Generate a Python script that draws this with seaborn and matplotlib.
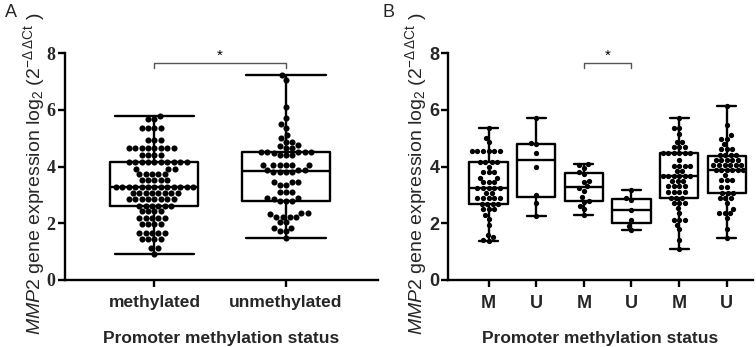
import numpy as np
import pandas as pd
import matplotlib
matplotlib.use("Agg")
import matplotlib.pyplot as plt
import seaborn as sns

# ---------------- data ----------------
a_categories = ["methylated", "unmethylated"]
a_methylated = [5.77, 5.68, 5.68, 5.35, 5.35, 5.35, 5.35, 4.95, 4.95, 4.95,
                4.65, 4.65, 4.65, 4.65, 4.65, 4.65, 4.65, 4.65,
                4.42, 4.42, 4.42, 4.42,
                4.15, 4.15, 4.15, 4.15, 4.15, 4.15, 4.15, 4.15, 4.15, 4.15,
                3.90, 3.90, 3.90, 3.72, 3.72, 3.72, 3.72, 3.72,
                3.52, 3.52, 3.52, 3.52, 3.52,
                3.28, 3.28, 3.28, 3.28, 3.28, 3.28, 3.28, 3.28, 3.28, 3.28, 3.28, 3.28, 3.28,
                3.05, 3.05, 3.05, 3.05, 3.05, 3.05, 3.05, 3.05,
                2.85, 2.85, 2.85, 2.85, 2.85, 2.85, 2.85, 2.85,
                2.62, 2.62, 2.62, 2.62, 2.62, 2.62,
                2.42, 2.42, 2.42, 2.42,
                2.18, 2.18, 2.18, 2.18, 2.18,
                1.98, 1.98, 1.98, 1.98,
                1.65, 1.65, 1.65, 1.65, 1.65,
                1.45, 1.45, 1.45, 1.45,
                1.12, 1.12, 0.93]
a_unmethylated = [7.22, 7.05, 6.10, 5.70, 5.50, 5.35, 5.10, 5.00, 4.87, 4.86,
                  4.75, 4.74, 4.65, 4.64, 4.50, 4.50, 4.51, 4.49, 4.50, 4.50,
                  4.40, 4.41, 4.39, 4.05, 4.04, 4.06, 4.05, 4.05, 4.04,
                  3.88, 3.87, 3.89, 3.80, 3.81, 3.79, 3.80, 3.45, 3.44, 3.46,
                  3.35, 3.34, 3.10, 3.11, 3.09, 2.88, 2.87, 2.89, 2.78, 2.77, 2.79,
                  2.35, 2.34, 2.36, 2.22, 2.21, 2.23, 2.22, 2.05, 2.04,
                  1.83, 1.82, 1.72, 1.71, 1.48]

b_groups = ["M1", "U1", "M2", "U2", "M3", "U3"]
b_labels = ["M", "U", "M", "U", "M", "U"]
b_m1 = [5.35, 5.02, 4.85, 4.55, 4.55, 4.55, 4.55, 4.55, 4.55,
        4.15, 4.15, 4.15, 4.15, 4.00, 3.80, 3.80, 3.80, 3.60, 3.60,
        3.45, 3.45, 3.45, 3.25, 3.25, 3.25, 3.25, 3.25, 3.05, 3.05,
        2.88, 2.88, 2.88, 2.88, 2.88, 2.68, 2.68, 2.68, 2.68,
        2.50, 2.50, 2.50, 2.30, 2.15, 1.95, 1.60, 1.50, 1.40, 1.38]
b_u1 = [5.70, 4.82, 4.80, 4.47, 3.98, 2.98, 2.72, 2.25]
b_m2 = [4.08, 4.05, 3.95, 3.82, 3.75, 3.48, 3.45, 3.30, 3.25, 3.15, 2.92, 2.78,
        2.75, 2.62, 2.50, 2.30]
b_u2 = [3.18, 2.88, 2.82, 2.48, 2.12, 1.92, 1.75]
b_m3 = [5.70, 5.35, 5.35, 5.15, 4.85, 4.85, 4.68, 4.68, 4.68,
        4.48, 4.48, 4.48, 4.48, 4.48, 4.48, 4.22, 4.02, 4.02, 4.02, 4.02,
        3.85, 3.85, 3.68, 3.68, 3.68, 3.68, 3.68, 3.68, 3.50, 3.50, 3.50,
        3.32, 3.32, 3.32, 3.32, 3.10, 3.10, 3.10, 3.10, 2.88, 2.88, 2.88,
        2.72, 2.72, 2.72, 2.53, 2.35, 2.12, 2.12, 2.12, 1.95, 1.78, 1.40, 1.08]
b_u3 = [6.12, 5.45, 5.10, 4.98, 4.98, 4.78, 4.62, 4.62, 4.62,
        4.40, 4.40, 4.40, 4.40, 4.22, 4.22, 4.22, 4.22, 4.22,
        4.05, 4.05, 4.05, 4.05, 4.05, 4.05, 3.88, 3.88, 3.88, 3.88, 3.88, 3.88,
        3.70, 3.52, 3.52, 3.52, 3.28, 3.28, 3.05, 3.05, 3.05,
        2.88, 2.88, 2.88, 2.70, 2.50, 2.35, 2.35, 2.35, 2.18, 1.80, 1.48]
y_ticks = [0, 2, 4, 6, 8]
x_title = "Promoter methylation status"

# ---------------- style ----------------
sns.set_theme(style="ticks")
plt.rcParams['font.family'] = ['Liberation Sans', 'DejaVu Sans']
plt.rcParams['mathtext.fontset'] = 'custom'
plt.rcParams['mathtext.rm'] = 'Liberation Sans'
plt.rcParams['mathtext.it'] = 'Liberation Sans:italic'
plt.rcParams['mathtext.bf'] = 'Liberation Sans:bold'

dfA = pd.DataFrame({
    "group": [a_categories[0]] * len(a_methylated) + [a_categories[1]] * len(a_unmethylated),
    "value": a_methylated + a_unmethylated,
})
b_lists = [b_m1, b_u1, b_m2, b_u2, b_m3, b_u3]
dfB = pd.DataFrame({
    "group": sum([[g] * len(v) for g, v in zip(b_groups, b_lists)], []),
    "value": sum(b_lists, []),
})

W, H = 756, 347
fig = plt.figure(figsize=(W / 100, H / 100), dpi=100)
axA = fig.add_axes([65 / W, 1 - 280 / H, 313 / W, 227 / H])
axB = fig.add_axes([448 / W, 1 - 280 / H, 305 / W, 227 / H])

LW = 1.7


def widen_caps(ax, width, factor):
    for ln in ax.lines:
        x = np.asarray(ln.get_xdata(), dtype=float)
        y = np.asarray(ln.get_ydata(), dtype=float)
        if len(x) == 2 and np.isclose(y[0], y[1]) and np.isclose(abs(x[1] - x[0]), 0.5 * width):
            c = x.mean()
            h = factor * width / 2
            ln.set_xdata([c - h, c + h])


ylabel = r"$\mathit{MMP2}$ gene expression log$_2$ (2$^{-\Delta\,\Delta\mathrm{Ct}}$ )"

for ax, df, order, width, capf, size, xlim in [
    (axA, dfA, a_categories, 0.67, 0.9, 4.4, (-0.68, 1.70)),
    (axB, dfB, b_groups, 0.8, 0.5, 3.8, (-0.85, 5.55)),
]:
    sns.boxplot(data=df, x="group", y="value", order=order, whis=(0, 100),
                width=width, fill=False, color="black", linecolor="black",
                linewidth=LW, showfliers=False, ax=ax)
    widen_caps(ax, width, capf)
    sns.swarmplot(data=df, x="group", y="value", order=order, color="black",
                  size=size, ax=ax, warn_thresh=1.0)
    ax.set_xlim(*xlim)
    ax.set_ylim(0, 8)
    ax.set_yticks(y_ticks)
    sns.despine(ax=ax)
    for s in ["left", "bottom"]:
        ax.spines[s].set_linewidth(LW)
        ax.spines[s].set_color("black")
    ax.tick_params(axis="both", length=5, width=LW, color="black")
    ax.tick_params(axis="x", pad=6)
    ax.set_xlabel(x_title, fontsize=12.5, fontweight="bold")
    ax.xaxis.set_label_coords(0.5, -0.225)
    ax.set_ylabel(ylabel, fontsize=14)
    ax.grid(False)

# tick labels
axA.set_xticks(range(len(a_categories)))
axA.set_xticklabels(a_categories, fontsize=12.5, fontweight="bold")
axB.set_xticks(range(len(b_groups)))
axB.set_xticklabels(b_labels, fontsize=13, fontweight="bold")
for lbl in axA.get_yticklabels():
    lbl.set_fontfamily(["Liberation Serif"])
    lbl.set_fontweight("bold")
    lbl.set_fontsize(13)
axA.tick_params(axis="y", pad=2)
for lbl in axB.get_yticklabels():
    lbl.set_fontweight("bold")
    lbl.set_fontsize(13)
axB.tick_params(axis="y", pad=1)

axA.yaxis.set_label_coords(-0.058, 0.47)
axB.yaxis.set_label_coords(-0.062, 0.47)

# significance brackets
for ax, i, j in [(axA, 0, 1), (axB, 2, 3)]:
    ax.plot([i, i, j, j], [7.47, 7.64, 7.64, 7.47], color="#555555", lw=1.0, clip_on=False)
    ax.text((i + j) / 2, 7.66, "*", ha="center", va="bottom", fontsize=11, color="black")

fig.text(5 / W, 1 - 4 / H, "A", fontsize=13, va="top", ha="left")
fig.text(383 / W, 1 - 4 / H, "B", fontsize=13, va="top", ha="left")

fig.savefig("out.png", dpi=100)
